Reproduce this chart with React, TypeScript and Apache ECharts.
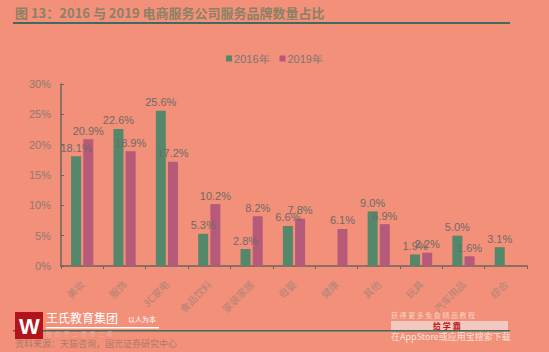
import React, { useEffect, useRef } from "react";
import * as echarts from "echarts";

const categories = ["美妆", "服饰", "3C家电", "食品饮料", "家装家居", "母婴", "健康", "其他", "玩具", "汽车用品", "综合"];
const values2016: (number | null)[] = [18.1, 22.6, 25.6, 5.3, 2.8, 6.6, null, 9.0, 1.9, 5.0, 3.1];
const values2019: (number | null)[] = [20.9, 18.9, 17.2, 10.2, 8.2, 7.8, 6.1, 6.9, 2.2, 1.6, null];
const yTicks = [0, 5, 10, 15, 20, 25, 30];

const BG = "#F2907A";
const GREEN = "#55876A";
const PINK = "#B65A7A";

export default function App() {
  const ref = useRef<HTMLDivElement>(null);
  useEffect(() => {
    if (!ref.current) return;
    const chart = echarts.init(ref.current, null, { renderer: "svg" });
    const labelCfg = {
      show: true,
      position: "top" as const,
      distance: 3,
      color: "#6E6A66",
      fontSize: 11,
      fontFamily: "Liberation Sans, Arial, sans-serif",
      formatter: (p: any) => (p.value == null ? "" : Number(p.value).toFixed(1) + "%"),
    };
    chart.setOption({
      animation: false,
      backgroundColor: BG,
      grid: { left: 61, right: 22, top: 84, bottom: 86, containLabel: false },
      legend: {
        top: 48,
        left: "center",
        itemWidth: 6,
        itemHeight: 6,
        itemGap: 10,
        icon: "rect",
        textStyle: { color: "#7A7672", fontSize: 11, fontFamily: "Liberation Sans, Arial, sans-serif", padding: [0, 0, 0, -3] },
        data: ["2016年", "2019年"],
      },
      xAxis: {
        type: "category",
        data: categories,
        axisLine: { lineStyle: { color: "#6A6460", width: 1.5 } },
        axisTick: { show: true, lineStyle: { color: "#6A6460" }, length: 3 },
        axisLabel: {
          rotate: 45,
          color: "#B08478",
          fontSize: 10,
          margin: 16,
          fontFamily: "Noto Sans CJK SC, sans-serif",
        },
      },
      yAxis: {
        type: "value",
        min: yTicks[0],
        max: yTicks[yTicks.length - 1],
        interval: 5,
        axisLine: { show: true, lineStyle: { color: "#6A6460", width: 1.5 } },
        axisTick: { show: true, inside: true, length: 3, lineStyle: { color: "#6A6460" } },
        splitLine: { show: false },
        axisLabel: {
          formatter: "{value}%",
          color: "#8E7A72",
          fontSize: 11,
          margin: 10,
          fontFamily: "Liberation Sans, Arial, sans-serif",
        },
      },
      series: [
        {
          name: "2016年",
          type: "bar",
          data: values2016,
          barWidth: 10,
          barGap: "22%",
          itemStyle: { color: GREEN },
          label: labelCfg,
        },
        {
          name: "2019年",
          type: "bar",
          data: values2019,
          barWidth: 10,
          itemStyle: { color: PINK },
          label: labelCfg,
        },
      ],
      graphic: [
        {
          type: "text",
          left: 15,
          top: 6,
          style: {
            text: "图 13：2016 与 2019 电商服务公司服务品牌数量占比",
            fill: "#8C8066",
            font: "bold 13px 'Noto Sans CJK SC', sans-serif",
          },
        },
        {
          type: "rect",
          shape: { x: 13, y: 22, width: 497, height: 2 },
          style: { fill: "#3F6A5E" },
        },
        {
          type: "rect",
          shape: { x: 13, y: 330, width: 497, height: 1.5 },
          style: { fill: "#3F6A5E" },
        },
        {
          type: "rect",
          shape: { x: 15, y: 312, width: 28, height: 27 },
          style: { fill: "#B3141C" },
        },
        {
          type: "text",
          x: 19,
          y: 315,
          style: { text: "W", fill: "#FFFFFF", font: "bold 22px 'Liberation Sans', sans-serif" },
        },
        {
          type: "text",
          x: 46,
          y: 311,
          style: { text: "王氏教育集团", fill: "#FFFFFF", font: "12px 'Noto Sans CJK SC', sans-serif" },
        },
        {
          type: "text",
          x: 128,
          y: 315,
          style: { text: "以人为本", fill: "#FFFFFF", font: "7px 'Noto Sans CJK SC', sans-serif" },
        },
        {
          type: "rect",
          shape: { x: 46, y: 327, width: 113, height: 1.5 },
          style: { fill: "#FFFFFF" },
        },
        {
          type: "text",
          x: 46,
          y: 330,
          style: { text: "始  创  于  二  零  零  二  年", fill: "#E8B2A2", font: "6px 'Noto Sans CJK SC', sans-serif" },
        },
        {
          type: "text",
          x: 15,
          y: 339,
          style: { text: "资料来源：天猫咨询，国元证券研究中心", fill: "#B07868", font: "9px 'Noto Sans CJK SC', sans-serif" },
        },
        {
          type: "text",
          x: 391,
          y: 311,
          style: { text: "获 得 更 多 免 费 精 品 教 程", fill: "#F7D2C6", font: "7px 'Noto Sans CJK SC', sans-serif" },
        },
        {
          type: "rect",
          shape: { x: 391, y: 321, width: 117, height: 9 },
          style: { fill: "#F1C9C0" },
        },
        {
          type: "text",
          x: 433,
          y: 321,
          style: { text: "给 学 霸", fill: "#C0141C", font: "bold 8px 'Noto Sans CJK SC', sans-serif" },
        },
        {
          type: "text",
          x: 391,
          y: 332,
          style: { text: "在AppStore或应用宝搜索下载", fill: "#F7E0D8", font: "9px 'Noto Sans CJK SC', sans-serif" },
        },
      ],
    });
    return () => chart.dispose();
  }, []);
  return <div ref={ref} style={{ width: 549, height: 352, position: "absolute", left: 0, top: 0 }} />;
}
